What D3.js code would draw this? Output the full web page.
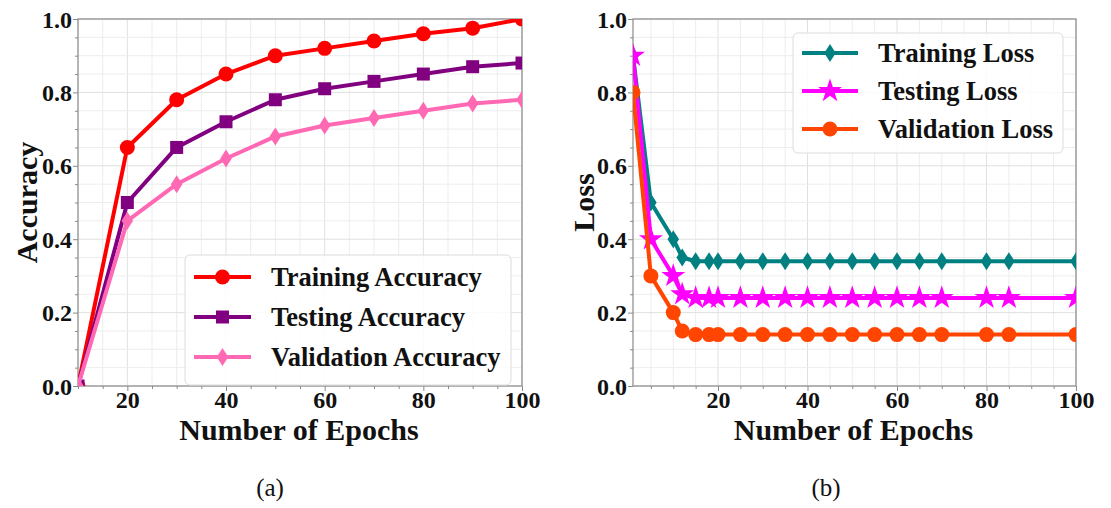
<!DOCTYPE html>
<html><head><meta charset="utf-8">
<script src="https://cdn.jsdelivr.net/npm/d3@7"></script>
<style>
body{margin:0;background:#fff;}
svg{display:block;}
text{font-family:"Liberation Serif","Times New Roman",serif;}
</style></head>
<body>
<svg id="chart" width="1111" height="508"></svg>
<script>
// ---------- Data ----------
const accEpochs = [10,20,30,40,50,60,70,80,90,100];
const trainAcc = [0,0.65,0.78,0.85,0.90,0.92,0.94,0.96,0.975,1.0];
const testAcc  = [0,0.50,0.65,0.72,0.78,0.81,0.83,0.85,0.87,0.88];
const valAcc   = [0,0.45,0.55,0.62,0.68,0.71,0.73,0.75,0.77,0.78];

const lossEpochs = [1,5,10,12,15,18,20,25,30,35,40,45,50,55,60,65,70,80,85,100];
const trainLoss = [0.9,0.5,0.4,0.35,0.34,0.34,0.34,0.34,0.34,0.34,0.34,0.34,0.34,0.34,0.34,0.34,0.34,0.34,0.34,0.34];
const testLoss  = [0.9,0.4,0.3,0.25,0.24,0.24,0.24,0.24,0.24,0.24,0.24,0.24,0.24,0.24,0.24,0.24,0.24,0.24,0.24,0.24];
const valLoss   = [0.8,0.3,0.2,0.15,0.14,0.14,0.14,0.14,0.14,0.14,0.14,0.14,0.14,0.14,0.14,0.14,0.14,0.14,0.14,0.14];

const xTicks = [20,40,60,80,100];
const yTicks = [0,0.2,0.4,0.6,0.8,1.0];
const accNames = ["Training Accuracy","Testing Accuracy","Validation Accuracy"];
const lossNames = ["Training Loss","Testing Loss","Validation Loss"];
const captions = ["(a)","(b)"];

// ---------- Drawing ----------
const svg = d3.select("#chart");
const FONT = '"Liberation Serif","Times New Roman",serif';

function markerPath(type, size){
  if(type==="circle") return d3.symbol(d3.symbolCircle, size*size*Math.PI/4)();
  if(type==="square") return d3.symbol(d3.symbolSquare, size*size)();
  if(type==="star") return d3.symbol(d3.symbolStar, size*size*0.55)();
  if(type==="thin_diamond"){
    const h=size/2, w=size*0.32;
    return `M0,${-h}L${w},0L0,${h}L${-w},0Z`;
  }
}

function panel(opts){
  const {x0,x1,y0,y1,xDomain,series,names,yLabel,yLabelX,legend,clipId,caption,capX} = opts;
  const g = svg.append("g");
  const x = d3.scaleLinear().domain(xDomain).range([x0,x1]);
  const y = d3.scaleLinear().domain([0,1]).range([y1,y0]);

  // grid
  const minorX = d3.range(Math.ceil(xDomain[0]/5)*5, xDomain[1]+0.001, 5);
  const minorY = d3.range(0,1.0001,0.05);
  const isMajorY = d => Math.abs(Math.round(d*5)-d*5)<1e-6;
  g.append("g").selectAll("line").data(minorX).join("line")
    .attr("x1",d=>x(d)).attr("x2",d=>x(d)).attr("y1",y0).attr("y2",y1)
    .attr("stroke", d=> d%20===0 ? "#e0e0e0" : "#ededed").attr("stroke-width",1);
  g.append("g").selectAll("line").data(minorY).join("line")
    .attr("y1",d=>y(d)).attr("y2",d=>y(d)).attr("x1",x0).attr("x2",x1)
    .attr("stroke", d=> isMajorY(d) ? "#e0e0e0" : "#ededed").attr("stroke-width",1);

  // axes
  const xAxis = d3.axisBottom(x).tickValues(xTicks).tickSize(5).tickFormat(d3.format("d"));
  const yAxis = d3.axisLeft(y).tickValues(yTicks).tickSize(5).tickFormat(d3.format(".1f"));
  const gx = g.append("g").attr("transform",`translate(0,${y1})`).call(xAxis);
  const gy = g.append("g").attr("transform",`translate(${x0},0)`).call(yAxis);
  g.append("g").attr("transform",`translate(0,${y1})`)
    .call(d3.axisBottom(x).tickValues(minorX.filter(v=>v%20!==0)).tickSize(3).tickFormat(""));
  g.append("g").attr("transform",`translate(${x0},0)`)
    .call(d3.axisLeft(y).tickValues(minorY.filter(v=>!isMajorY(v))).tickSize(3).tickFormat(""));
  g.selectAll(".domain").remove();
  g.selectAll(".tick line").attr("stroke","#8a8a8a");
  [gx,gy].forEach(a=>a.selectAll(".tick text")
    .attr("font-family",FONT).attr("font-size",24).attr("font-weight","bold").attr("fill","#111"));
  gx.selectAll(".tick text").attr("y",22).attr("dy","0");
  gy.selectAll(".tick text").attr("x",-6).attr("dy","0.34em");

  // frame
  g.append("rect").attr("x",x0).attr("y",y0).attr("width",x1-x0).attr("height",y1-y0)
    .attr("fill","none").attr("stroke","#8a8a8a").attr("stroke-width",1.2);

  // clip
  svg.append("defs").append("clipPath").attr("id",clipId)
    .append("rect").attr("x",x0).attr("y",y0).attr("width",x1-x0).attr("height",y1-y0);
  const plot = g.append("g").attr("clip-path",`url(#${clipId})`);

  const line = d3.line().x(d=>x(d[0])).y(d=>y(d[1]));
  series.forEach(s=>{
    const pts = s.xs.map((v,i)=>[v,s.ys[i]]);
    const sg = plot.append("g");
    sg.append("path").datum(pts).attr("d",line).attr("fill","none")
      .attr("stroke",s.color).attr("stroke-width",4).attr("stroke-linejoin","round");
    sg.selectAll("path.m").data(pts).join("path").attr("class","m")
      .attr("transform",d=>`translate(${x(d[0])},${y(d[1])})`)
      .attr("d",markerPath(s.marker,s.msize)).attr("fill",s.color);
  });

  // axis titles
  g.append("text").attr("x",(x0+x1)/2 - 1).attr("y",y1+54).attr("text-anchor","middle")
    .attr("font-size",30).attr("font-weight","bold").attr("fill","#111").text("Number of Epochs");
  g.append("text").attr("transform",`translate(${yLabelX},${(y0+y1)/2}) rotate(-90)`)
    .attr("text-anchor","middle").attr("font-size",30).attr("font-weight","bold").attr("fill","#111").text(yLabel);

  // legend
  const lg = g.append("g");
  lg.append("rect").attr("x",legend.x).attr("y",legend.y).attr("width",legend.w).attr("height",legend.h)
    .attr("rx",5).attr("fill","#fff").attr("fill-opacity",0.85).attr("stroke","#dcdcdc");
  series.forEach((s,i)=>{
    const cy = legend.y + legend.rowStart + i*legend.rowGap;
    const lx0 = legend.x+9, lx1 = legend.x+9+legend.lineLen;
    lg.append("line").attr("x1",lx0).attr("x2",lx1).attr("y1",cy).attr("y2",cy)
      .attr("stroke",s.color).attr("stroke-width",4);
    lg.append("path").attr("transform",`translate(${(lx0+lx1)/2},${cy})`)
      .attr("d",markerPath(s.marker,s.msize)).attr("fill",s.color);
    lg.append("text").attr("x",legend.x+legend.textOff).attr("y",cy).attr("dy","0.35em")
      .attr("font-size",26.5).attr("font-weight","bold").attr("fill","#111").text(names[i]);
  });

  svg.append("text").attr("x",capX).attr("y",496).attr("text-anchor","middle")
    .attr("font-size",25).attr("fill","#111").text(caption);
}

panel({
  x0:78,x1:522,y0:19,y1:386,xDomain:[10,100],yLabel:"Accuracy",yLabelX:37,clipId:"clipA",
  names:accNames, caption:captions[0], capX:270,
  series:[
    {xs:accEpochs,ys:trainAcc,color:"#ff0000",marker:"circle",msize:15},
    {xs:accEpochs,ys:testAcc,color:"#800080",marker:"square",msize:13},
    {xs:accEpochs,ys:valAcc,color:"#ff69b4",marker:"thin_diamond",msize:18}
  ],
  legend:{x:185,y:255,w:326,h:130,rowStart:22,rowGap:40,lineLen:57,textOff:86}
});

panel({
  x0:633,x1:1076,y0:19,y1:386,xDomain:[1,100],yLabel:"Loss",yLabelX:594,clipId:"clipB",
  names:lossNames, caption:captions[1], capX:826,
  series:[
    {xs:lossEpochs,ys:trainLoss,color:"#008080",marker:"thin_diamond",msize:18},
    {xs:lossEpochs,ys:testLoss,color:"#ff00ff",marker:"star",msize:18},
    {xs:lossEpochs,ys:valLoss,color:"#ff4500",marker:"circle",msize:15}
  ],
  legend:{x:793,y:33,w:270,h:120,rowStart:20,rowGap:38,lineLen:56,textOff:85}
});
</script>
</body></html>
